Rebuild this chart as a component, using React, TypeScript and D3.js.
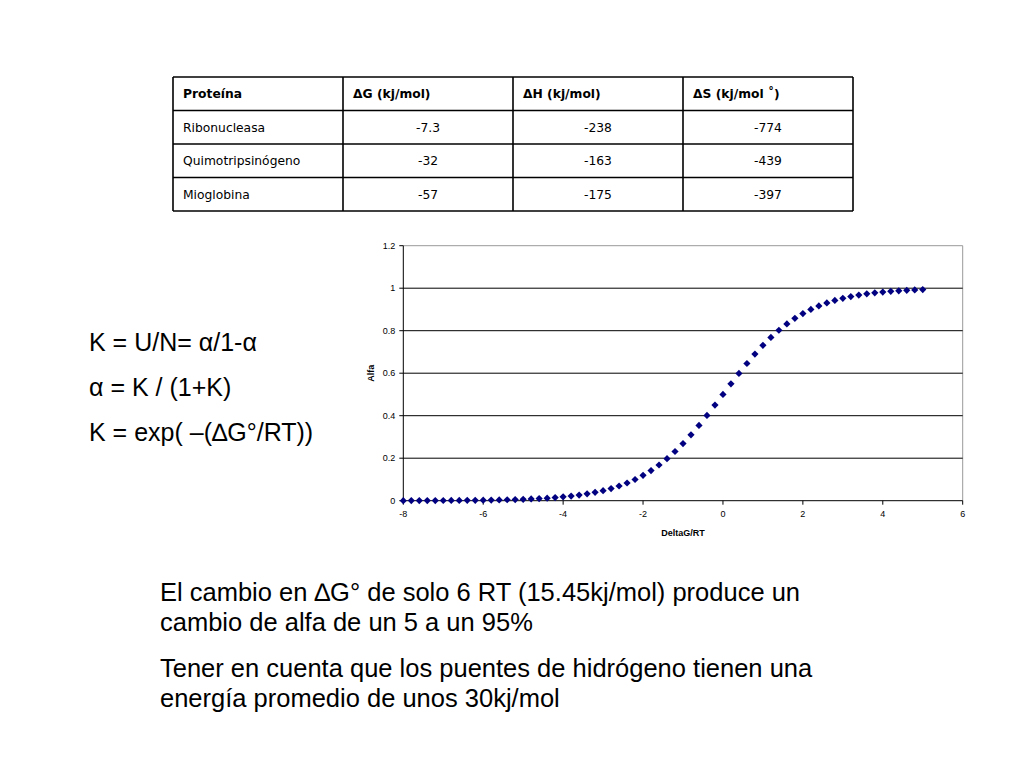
import React from "react";
import * as d3 from "d3";

const tableHeaders = ["Proteína", "ΔG (kj/mol)", "ΔH (kj/mol)", "ΔS (kj/mol ˚)"];
const proteins = ["Ribonucleasa", "Quimotripsinógeno", "Mioglobina"];
const deltaG = ["-7.3", "-32", "-57"];
const deltaH = ["-238", "-163", "-175"];
const deltaS = ["-774", "-439", "-397"];

const deltaGRT = [
  -8, -7.8, -7.6, -7.4, -7.2, -7, -6.8, -6.6, -6.4, -6.2, -6, -5.8, -5.6, -5.4, -5.2, -5,
  -4.8, -4.6, -4.4, -4.2, -4, -3.8, -3.6, -3.4, -3.2, -3, -2.8, -2.6, -2.4, -2.2, -2,
  -1.8, -1.6, -1.4, -1.2, -1, -0.8, -0.6, -0.4, -0.2, 0, 0.2, 0.4, 0.6, 0.8, 1, 1.2,
  1.4, 1.6, 1.8, 2, 2.2, 2.4, 2.6, 2.8, 3, 3.2, 3.4, 3.6, 3.8, 4, 4.2, 4.4, 4.6, 4.8, 5,
];
const alfa = [
  0.0003, 0.0004, 0.0005, 0.0006, 0.0007, 0.0009, 0.0011, 0.0014, 0.0017, 0.002, 0.0025,
  0.003, 0.0037, 0.0045, 0.0055, 0.0067, 0.0082, 0.01, 0.0121, 0.0148, 0.018, 0.0219,
  0.0266, 0.0323, 0.0392, 0.0474, 0.0573, 0.0691, 0.0832, 0.0998, 0.1192, 0.1419, 0.168,
  0.1978, 0.2315, 0.2689, 0.31, 0.3543, 0.4013, 0.4502, 0.5, 0.5498, 0.5987, 0.6457, 0.69,
  0.7311, 0.7685, 0.8022, 0.832, 0.8581, 0.8808, 0.9003, 0.9168, 0.9309, 0.9427, 0.9526,
  0.9608, 0.9677, 0.9734, 0.9781, 0.982, 0.9852, 0.9879, 0.99, 0.9918, 0.9933,
];
const xTicks = [-8, -6, -4, -2, 0, 2, 4, 6];
const yTicks = [0, 0.2, 0.4, 0.6, 0.8, 1, 1.2];
const yTickLabels = ["0", "0.2", "0.4", "0.6", "0.8", "1", "1.2"];

const formulas = ["K = U/N= α/1-α", "α = K / (1+K)", "K = exp( –(∆G°/RT))"];
const notes = [
  "El cambio en ∆G° de solo 6 RT (15.45kj/mol) produce un",
  "cambio de alfa de un 5 a un 95%",
  "Tener en cuenta que los puentes de hidrógeno tienen una",
  "energía promedio de unos 30kj/mol",
];

export default function App() {
  // table layout
  const tX = [173, 343, 513, 683, 853];
  const tY = [77, 110.5, 144, 177.5, 211];
  const rows = proteins.map((p, i) => [p, deltaG[i], deltaH[i], deltaS[i]]);

  // chart
  const x = d3.scaleLinear().domain([-8, 6]).range([403.3, 962.7]);
  const y = d3.scaleLinear().domain([0, 1.2]).range([500.7, 245.7]);
  const diamond = d3.symbol(d3.symbolSquare, 26)();
  const axisFont = "'Liberation Sans', Arial, sans-serif";

  return (
    <svg
      width={1024}
      height={768}
      style={{ position: "absolute", left: 0, top: 0, background: "#fff" }}
      xmlns="http://www.w3.org/2000/svg"
    >
      <rect width={1024} height={768} fill="#fff" />
      {/* Table */}
      <g fontFamily="'DejaVu Sans', Verdana, sans-serif" fontSize={12.3} fill="#000">
        {tY.map((yy, i) => (
          <line key={"h" + i} x1={tX[0]} x2={tX[4]} y1={yy} y2={yy} stroke="#000" strokeWidth={1.6} />
        ))}
        {tX.map((xx, i) => (
          <line key={"v" + i} x1={xx} x2={xx} y1={tY[0]} y2={tY[4]} stroke="#000" strokeWidth={1.6} />
        ))}
        {tableHeaders.map((h, i) => (
          <text key={"th" + i} x={tX[i] + 10} y={(tY[0] + tY[1]) / 2 + 4.5} fontWeight="bold">
            {h}
          </text>
        ))}
        {rows.map((r, ri) =>
          r.map((c, ci) => (
            <text
              key={ri + "-" + ci}
              x={ci === 0 ? tX[0] + 10 : (tX[ci] + tX[ci + 1]) / 2}
              y={(tY[ri + 1] + tY[ri + 2]) / 2 + 4.5}
              textAnchor={ci === 0 ? "start" : "middle"}
            >
              {c}
            </text>
          ))
        )}
      </g>

      {/* Chart */}
      <g fontFamily={axisFont} fontSize={9} fill="#000">
        <line x1={x(-8)} x2={x(6)} y1={y(1.2)} y2={y(1.2)} stroke="#999" strokeWidth={1} />
        <line x1={x(6)} x2={x(6)} y1={y(1.2)} y2={y(0)} stroke="#999" strokeWidth={1} />
        {yTicks
          .filter((t) => t > 0 && t < 1.2)
          .map((t) => (
            <line key={"g" + t} x1={x(-8)} x2={x(6)} y1={y(t)} y2={y(t)} stroke="#000" strokeWidth={1} />
          ))}
        <line x1={x(-8)} x2={x(-8)} y1={y(1.2)} y2={y(0)} stroke="#000" strokeWidth={1} />
        <line x1={x(-8)} x2={x(6)} y1={y(0)} y2={y(0)} stroke="#000" strokeWidth={1} />
        {yTicks.map((t, i) => (
          <g key={"yt" + t}>
            <line x1={x(-8) - 4} x2={x(-8)} y1={y(t)} y2={y(t)} stroke="#000" />
            <text x={x(-8) - 8} y={y(t) + 3} textAnchor="end">
              {yTickLabels[i]}
            </text>
          </g>
        ))}
        {xTicks.map((t) => (
          <g key={"xt" + t}>
            <line x1={x(t)} x2={x(t)} y1={y(0)} y2={y(0) + 4} stroke="#000" />
            <text x={x(t)} y={y(0) + 16} textAnchor="middle">
              {t}
            </text>
          </g>
        ))}
        <text
          transform={`translate(374, ${(y(0) + y(1.2)) / 2}) rotate(-90)`}
          textAnchor="middle"
          fontWeight="bold"
        >
          Alfa
        </text>
        <text x={(x(-8) + x(6)) / 2} y={536} textAnchor="middle" fontWeight="bold">
          DeltaG/RT
        </text>
        {deltaGRT.map((v, i) => (
          <path
            key={"p" + i}
            d={diamond as string}
            transform={`translate(${x(v)}, ${y(alfa[i])}) rotate(45)`}
            fill="#000080"
          />
        ))}
      </g>

      {/* Formulas */}
      <g fontFamily="'Liberation Sans', Arial, Helvetica, sans-serif" fontSize={25} fill="#000">
        {formulas.map((f, i) => (
          <text key={"f" + i} x={89} y={351 + i * 45}>
            {f}
          </text>
        ))}
      </g>

      {/* Notes */}
      <g fontFamily="'Liberation Sans', Arial, Helvetica, sans-serif" fontSize={25.5} fill="#000">
        {notes.map((n, i) => (
          <text key={"n" + i} x={160} y={[601, 631, 677, 707][i]}>
            {n}
          </text>
        ))}
      </g>
    </svg>
  );
}
